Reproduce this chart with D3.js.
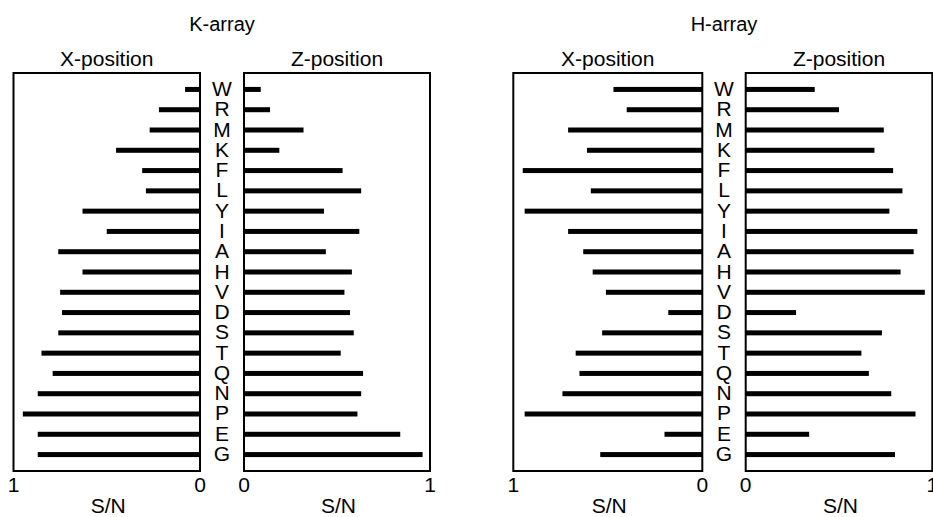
<!DOCTYPE html>
<html>
<head>
<meta charset="utf-8">
<script src="https://cdn.jsdelivr.net/npm/d3@7"></script>
<style>
  body { margin: 0; background: #fff; }
  svg text { font-family: "Liberation Sans", Arial, sans-serif; fill: #000; }
</style>
</head>
<body>
<svg id="chart" width="933" height="517"></svg>
<script>
// residues, top to bottom
var residues = ["W","R","M","K","F","L","Y","I","A","H","V","D","S","T","Q","N","P","E","G"];
var arrays = ["K-array", "H-array"];
var positions = ["X-position", "Z-position"];
var ticks = [0, 1];

// S/N values
var kX = [0.08,0.22,0.27,0.45,0.31,0.29,0.63,0.50,0.76,0.63,0.75,0.74,0.76,0.85,0.79,0.87,0.95,0.87,0.87];
var kZ = [0.09,0.14,0.32,0.19,0.53,0.63,0.43,0.62,0.44,0.58,0.54,0.57,0.59,0.52,0.64,0.63,0.61,0.84,0.96];
var hX = [0.47,0.40,0.71,0.61,0.95,0.59,0.94,0.71,0.63,0.58,0.51,0.18,0.53,0.67,0.65,0.74,0.94,0.20,0.54];
var hZ = [0.37,0.50,0.74,0.69,0.79,0.84,0.77,0.92,0.90,0.83,0.96,0.27,0.73,0.62,0.66,0.78,0.91,0.34,0.80];

var boxTop = 73, boxBottom = 471;
var svg = d3.select("#chart");

var y = d3.scalePoint()
    .domain(residues)
    .range([boxTop, boxBottom])
    .padding(0.81);

// panel boxes: X panels run 1 -> 0 (left to right), Z panels 0 -> 1
var panels = [
  {arr: 0, pos: 0, left: 13.5, right: 200, data: kX, flip: true},
  {arr: 0, pos: 1, left: 244, right: 430, data: kZ, flip: false},
  {arr: 1, pos: 0, left: 513.3, right: 702.3, data: hX, flip: true},
  {arr: 1, pos: 1, left: 745.7, right: 932.3, data: hZ, flip: false}
];

panels.forEach(function(p) {
  var x = d3.scaleLinear()
      .domain([0, 1])
      .range(p.flip ? [p.right, p.left] : [p.left, p.right]);
  var g = svg.append("g");
  var rows = residues.map(function(r, i) { return {res: r, v: p.data[i]}; });

  g.selectAll(".bar")
    .data(rows)
    .enter().append("rect")
      .attr("class", "bar")
      .attr("x", function(d) { return Math.min(x(0), x(d.v)); })
      .attr("y", function(d) { return y(d.res) - 2.5; })
      .attr("width", function(d) { return Math.abs(x(d.v) - x(0)); })
      .attr("height", 5)
      .attr("fill", "#000");

  g.append("rect")
    .attr("x", p.left)
    .attr("y", boxTop)
    .attr("width", p.right - p.left)
    .attr("height", boxBottom - boxTop)
    .attr("fill", "none")
    .attr("stroke", "#000")
    .attr("stroke-width", 2);

  g.selectAll(".tick")
    .data(ticks)
    .enter().append("text")
      .attr("class", "tick")
      .attr("x", function(d) { return x(d); })
      .attr("y", 492)
      .attr("text-anchor", "middle")
      .style("font-size", "21px")
      .text(function(d) { return d; });

  g.append("text")
    .attr("x", (p.left + p.right) / 2)
    .attr("y", 66)
    .attr("text-anchor", "middle")
    .style("font-size", "21px")
    .text(positions[p.pos]);

  g.append("text")
    .attr("x", (p.left + p.right) / 2 + 1.5)
    .attr("y", 513)
    .attr("text-anchor", "middle")
    .style("font-size", "21px")
    .text("S/N");
});

// residue letters between the two panels of each array, and array titles
[[200, 244], [702.3, 745.7]].forEach(function(gap, a) {
  var cx = (gap[0] + gap[1]) / 2;
  svg.append("g").selectAll("text")
    .data(residues)
    .enter().append("text")
      .attr("x", cx)
      .attr("y", function(d) { return y(d) + 6.5; })
      .attr("text-anchor", "middle")
      .style("font-size", "21px")
      .text(function(d) { return d; });

  svg.append("text")
    .attr("x", cx)
    .attr("y", 31)
    .attr("text-anchor", "middle")
    .style("font-size", "20px")
    .text(arrays[a]);
});
</script>
</body>
</html>
